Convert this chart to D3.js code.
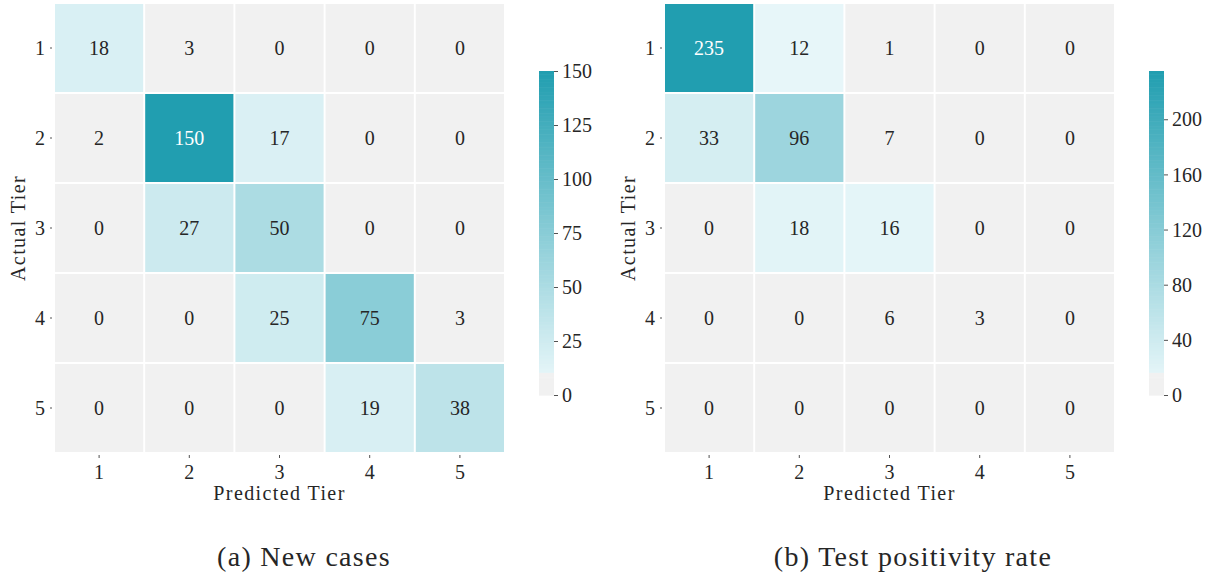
<!DOCTYPE html>
<html><head><meta charset="utf-8">
<script src="https://cdn.jsdelivr.net/npm/d3@7"></script>
<style>
html,body{margin:0;padding:0;background:#fff;}
svg{display:block;}
text{font-family:"Liberation Serif","Times New Roman",serif;fill:#262626;}
</style></head>
<body>
<svg id="chart" width="1211" height="577"></svg>
<script>
// ---- data ----
const tiers = ["1","2","3","4","5"];
const newCases = [
  [18, 3, 0, 0, 0],
  [2, 150, 17, 0, 0],
  [0, 27, 50, 0, 0],
  [0, 0, 25, 75, 3],
  [0, 0, 0, 19, 38]
];
const testPositivity = [
  [235, 12, 1, 0, 0],
  [33, 96, 7, 0, 0],
  [0, 18, 16, 0, 0],
  [0, 0, 6, 3, 0],
  [0, 0, 0, 0, 0]
];
const ticksA = [0, 25, 50, 75, 100, 125, 150];
const ticksB = [0, 40, 80, 120, 160, 200];
const captions = ["(a) New cases", "(b) Test positivity rate"];
const xLabel = "Predicted Tier";
const yLabel = "Actual Tier";

// ---- styling ----
const GREY = "#f1f1f1";
const LIGHT = "#f2fbfd";
const DARK = "#219eb0";
const svg = d3.select("#chart");

function panel(data, ticks, opt) {
  const max = d3.max(data.flat());
  const interp = d3.interpolateRgb(LIGHT, DARK);
  const color = v => (v / max < 0.045 ? GREY : interp(v / max));
  const g = svg.append("g");
  const x = d3.scaleBand().domain(tiers).range([opt.x0, opt.x1]);
  const y = d3.scaleBand().domain(tiers).range([opt.y0, opt.y1]);
  const cells = [];
  data.forEach((row, i) => row.forEach((v, j) => cells.push({r: tiers[i], c: tiers[j], v})));
  g.selectAll("rect.cell").data(cells).join("rect")
    .attr("class", "cell")
    .attr("x", d => x(d.c) + 1).attr("y", d => y(d.r) + 1)
    .attr("width", x.bandwidth() - 2).attr("height", y.bandwidth() - 2)
    .attr("fill", d => color(d.v));
  g.selectAll("text.val").data(cells).join("text")
    .attr("class", "val")
    .attr("x", d => x(d.c) + x.bandwidth() / 2)
    .attr("y", d => y(d.r) + y.bandwidth() / 2)
    .attr("text-anchor", "middle").attr("dominant-baseline", "central")
    .style("font-size", "20px")
    .style("fill", d => (d.v / max > 0.6 ? "#ffffff" : "#262626"))
    .text(d => d.v);

  // x axis
  const xa = g.append("g").attr("transform", `translate(0,${opt.y1})`)
    .call(d3.axisBottom(x).tickSize(4).tickPadding(3));
  xa.select(".domain").remove();
  xa.selectAll("line").attr("stroke", "#262626").attr("stroke-width", 0.8).attr("y1", 2).attr("y2", 5);
  xa.selectAll("text").style("font-size", "20px").attr("dy", "0.95em");
  // y axis
  const ya = g.append("g").attr("transform", `translate(${opt.x0},0)`)
    .call(d3.axisLeft(y).tickSize(4).tickPadding(5));
  ya.select(".domain").remove();
  ya.selectAll("line").attr("stroke", "#262626").attr("stroke-width", 0.8).attr("x1", -2).attr("x2", -4);
  ya.selectAll("text").style("font-size", "20px").attr("dy", "0.33em");

  g.append("text").attr("x", (opt.x0 + opt.x1) / 2).attr("y", opt.y1 + 47)
    .attr("text-anchor", "middle").style("font-size", "20px").style("letter-spacing", "1.4px").text(xLabel);
  g.append("text").attr("transform", `translate(${opt.x0 - 29},${(opt.y0 + opt.y1) / 2}) rotate(-90)`)
    .attr("text-anchor", "middle").style("font-size", "20px").style("letter-spacing", "1.4px").text(yLabel);

  // colorbar
  const cb = opt.cb;
  const cs = d3.scaleLinear().domain([0, max]).range([cb.y1, cb.y0]);
  const steps = d3.range(0, 200);
  g.selectAll("rect.cbar").data(steps).join("rect")
    .attr("class", "cbar")
    .attr("x", cb.x).attr("width", cb.w)
    .attr("y", s => cs(max * (s + 1) / 200))
    .attr("height", s => cs(max * s / 200) - cs(max * (s + 1) / 200) + 0.6)
    .attr("fill", s => ((s + 0.5) / 200 < 0.068 ? GREY : interp((s + 0.5) / 200)));
  const ca = g.append("g").attr("transform", `translate(${cb.x + cb.w},0)`)
    .call(d3.axisRight(cs).tickValues(ticks).tickSize(4).tickPadding(4));
  ca.select(".domain").remove();
  ca.selectAll("line").attr("stroke", "#262626").attr("stroke-width", 0.8);
  ca.selectAll("text").style("font-size", "20px").attr("dy", "0.33em");

  svg.append("text").attr("x", opt.capX).attr("y", 566).attr("text-anchor", "middle")
    .style("font-size", "28px").style("letter-spacing", "1.3px").text(opt.caption);
}

panel(newCases, ticksA, {x0: 54, x1: 505, y0: 3, y1: 453,
  cb: {x: 539, w: 15, y0: 71, y1: 395}, capX: 304, caption: captions[0]});
panel(testPositivity, ticksB, {x0: 664, x1: 1115, y0: 3, y1: 453,
  cb: {x: 1149, w: 15, y0: 71, y1: 395}, capX: 913, caption: captions[1]});
</script>
</body></html>
